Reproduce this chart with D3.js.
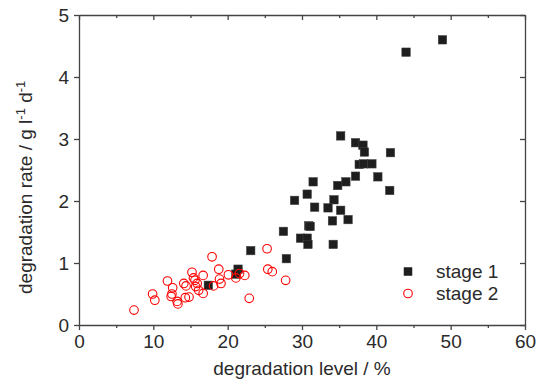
<!DOCTYPE html>
<html>
<head>
<meta charset="utf-8">
<script src="https://cdn.jsdelivr.net/npm/d3@7"></script>
<style>
  html, body { margin: 0; padding: 0; background: #fff; }
  svg { display: block; }
  text { font-family: "Liberation Sans", Arial, Helvetica, sans-serif; fill: #2a2a2a; }
</style>
</head>
<body>
<svg id="chart" width="539" height="388"></svg>
<script>
// ---- data ----
const xTicks = [0, 10, 20, 30, 40, 50, 60];
const xMinorTicks = [5, 15, 25, 35, 45, 55];
const yTicks = [0, 1, 2, 3, 4, 5];

const stage1X = [48.9, 44.0, 35.2, 37.2, 38.2, 38.4, 41.9, 37.7, 38.3, 39.4, 37.2, 40.2,
  31.5, 35.9, 34.8, 41.8, 30.7, 29.0, 34.3, 31.7, 33.5, 35.2, 34.1, 36.2, 30.9, 31.1,
  27.5, 29.8, 30.7, 30.8, 34.2, 23.1, 27.9, 21.4, 21.1, 17.4];
const stage1Y = [4.60, 4.40, 3.05, 2.94, 2.90, 2.79, 2.78, 2.59, 2.60, 2.60, 2.40, 2.39,
  2.31, 2.31, 2.25, 2.17, 2.11, 2.01, 2.02, 1.90, 1.89, 1.85, 1.68, 1.70, 1.60, 1.59,
  1.51, 1.40, 1.40, 1.30, 1.30, 1.20, 1.07, 0.90, 0.82, 0.64];

const stage2X = [7.4, 9.9, 10.2, 11.9, 12.6, 12.5, 12.4, 13.2, 13.3, 14.1, 14.4, 14.3, 14.8,
  15.2, 15.4, 15.6, 15.9, 15.7, 16.1, 16.7, 16.7, 17.9, 18.1, 18.8, 18.9, 19.1, 20.1,
  21.1, 21.6, 22.3, 22.9, 25.3, 25.4, 26.0, 27.8];
const stage2Y = [0.24, 0.50, 0.40, 0.71, 0.60, 0.50, 0.46, 0.38, 0.34, 0.67, 0.63, 0.44, 0.45,
  0.85, 0.76, 0.72, 0.67, 0.62, 0.56, 0.80, 0.51, 1.10, 0.63, 0.90, 0.74, 0.67, 0.81,
  0.76, 0.83, 0.80, 0.43, 1.23, 0.90, 0.86, 0.72];

const seriesNames = ["stage 1", "stage 2"];
const xTitle = "degradation level / %";

// ---- layout ----
const svg = d3.select("#chart");
const L = 79, R = 525, T = 15, B = 325;
const x = d3.scaleLinear().domain([0, 60]).range([L, R]);
const y = d3.scaleLinear().domain([0, 5]).range([B, T]);
const axisColor = "#444";
const fs = 19;
const fmt = d3.format("d");

function styleAxis(g, showText) {
  g.selectAll("path.domain").attr("stroke", axisColor).attr("stroke-width", 1.3);
  g.selectAll(".tick line").attr("stroke", axisColor).attr("stroke-width", 1.3);
  g.attr("font-family", null).attr("font-size", null);
  g.selectAll(".tick text").style("font-size", fs + "px").attr("fill", "#2a2a2a");
  if (!showText) g.selectAll(".tick text").remove();
}

// bottom
svg.append("g").attr("transform", `translate(0,${B})`)
  .call(d3.axisBottom(x).tickValues(xTicks).tickFormat(fmt).tickSize(5).tickSizeOuter(0).tickPadding(5))
  .call(g => styleAxis(g, true));
svg.append("g").attr("transform", `translate(0,${B})`)
  .call(d3.axisBottom(x).tickValues(xMinorTicks).tickSize(3).tickSizeOuter(0))
  .call(g => { styleAxis(g, false); g.select("path.domain").remove(); });
// top
svg.append("g").attr("transform", `translate(0,${T})`)
  .call(d3.axisTop(x).tickValues(xTicks).tickSize(-5).tickSizeOuter(0))
  .call(g => styleAxis(g, false));
svg.append("g").attr("transform", `translate(0,${T})`)
  .call(d3.axisTop(x).tickValues(xMinorTicks).tickSize(-3).tickSizeOuter(0))
  .call(g => { styleAxis(g, false); g.select("path.domain").remove(); });
// left
svg.append("g").attr("transform", `translate(${L},0)`)
  .call(d3.axisLeft(y).tickValues(yTicks).tickFormat(fmt).tickSize(5).tickSizeOuter(0).tickPadding(5))
  .call(g => styleAxis(g, true));
// right
svg.append("g").attr("transform", `translate(${R},0)`)
  .call(d3.axisRight(y).tickValues(yTicks).tickSize(-5).tickSizeOuter(0))
  .call(g => styleAxis(g, false));

// axis titles
svg.append("text").attr("x", (L + R) / 2).attr("y", 375)
  .attr("text-anchor", "middle").style("font-size", fs + "px").text(xTitle);

const yt = svg.append("text").attr("transform", "translate(32,294) rotate(-90)")
  .attr("text-anchor", "start").style("font-size", "19px");
yt.append("tspan").text("degradation rate / g l");
yt.append("tspan").attr("dy", -7.5).style("font-size", "13px").text("-1");
yt.append("tspan").attr("dy", 7.5).text(" d");
yt.append("tspan").attr("dy", -7.5).style("font-size", "13px").text("-1");

// data marks
const sq = 8.5;
const s1 = stage1X.map((v, i) => [v, stage1Y[i]]);
const s2 = stage2X.map((v, i) => [v, stage2Y[i]]);

svg.append("g").selectAll("rect").data(s1).join("rect")
  .attr("x", d => x(d[0]) - sq / 2).attr("y", d => y(d[1]) - sq / 2)
  .attr("width", sq).attr("height", sq)
  .attr("fill", "#1e1e1e").attr("stroke", "#444").attr("stroke-width", 0.5);

svg.append("g").selectAll("circle").data(s2).join("circle")
  .attr("cx", d => x(d[0])).attr("cy", d => y(d[1])).attr("r", 4.3)
  .attr("fill", "none").attr("stroke", "#ff0000").attr("stroke-width", 1.1);

// legend
const lg = svg.append("g");
lg.append("rect").attr("x", 408 - sq / 2).attr("y", 271.5 - sq / 2)
  .attr("width", sq).attr("height", sq).attr("fill", "#1e1e1e");
lg.append("circle").attr("cx", 408).attr("cy", 293.5).attr("r", 4.3)
  .attr("fill", "none").attr("stroke", "#ff0000").attr("stroke-width", 1.1);
lg.append("text").attr("x", 436).attr("y", 277.5).style("font-size", fs + "px").text(seriesNames[0]);
lg.append("text").attr("x", 436).attr("y", 300).style("font-size", fs + "px").text(seriesNames[1]);
</script>
</body>
</html>
